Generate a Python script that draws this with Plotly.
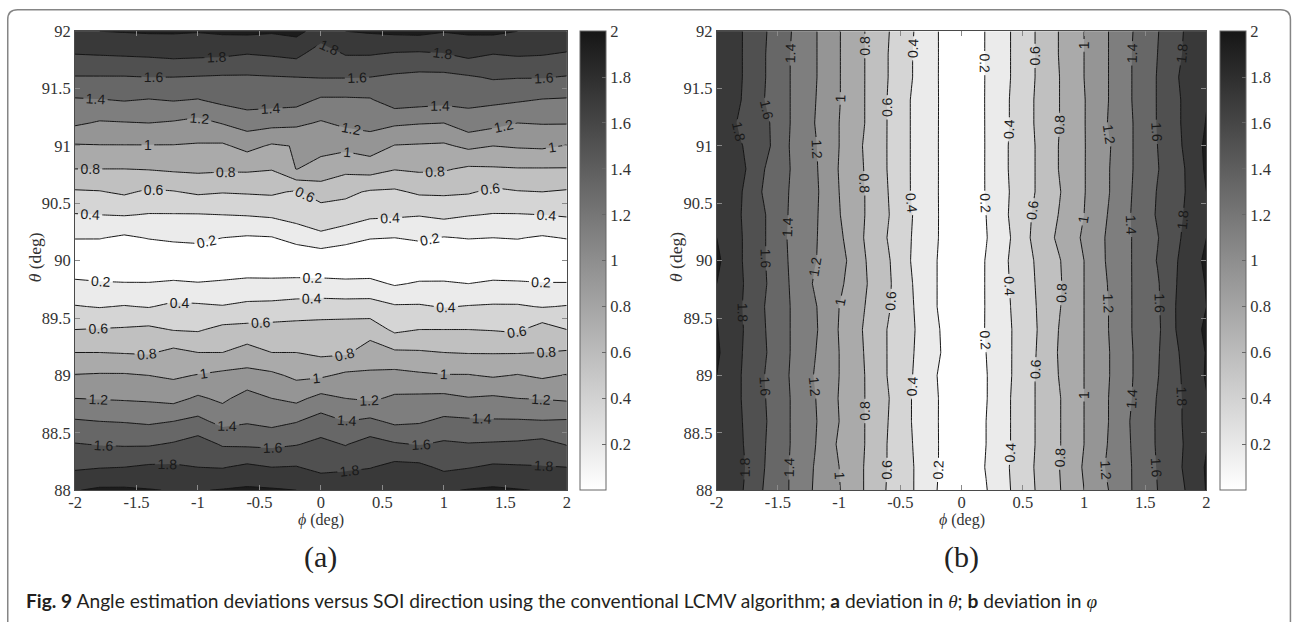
import numpy as np
import plotly.graph_objects as go

# ---------------------------------------------------------------- data
phi_deg = [-2.0, -1.8, -1.6, -1.4, -1.2, -1.0, -0.8, -0.6, -0.4, -0.2, 0.0,
           0.2, 0.4, 0.6, 0.8, 1.0, 1.2, 1.4, 1.6, 1.8, 2.0]
# rows listed from the top of the plot (92 deg) down to 88 deg
theta_deg = [92.0, 91.8, 91.6, 91.4, 91.2, 91.0, 90.8, 90.6, 90.4, 90.2, 90.0,
             89.8, 89.6, 89.4, 89.2, 89.0, 88.8, 88.6, 88.4, 88.2, 88.0]

# (a) deviation in theta, one list per theta row (columns follow phi_deg)
dev_theta = [
    [1.99, 2.00, 2.01, 2.02, 2.02, 2.01, 2.03, 2.04, 2.02, 2.05, 1.92, 2.00, 2.02, 2.04, 2.05, 2.01, 2.03, 2.04, 2.00, 1.99, 1.98],
    [1.80, 1.81, 1.82, 1.83, 1.85, 1.84, 1.83, 1.80, 1.82, 1.85, 1.69, 1.81, 1.81, 1.78, 1.77, 1.79, 1.85, 1.80, 1.82, 1.81, 1.78],
    [1.59, 1.59, 1.59, 1.60, 1.60, 1.59, 1.58, 1.58, 1.59, 1.60, 1.61, 1.61, 1.60, 1.57, 1.55, 1.55, 1.58, 1.62, 1.61, 1.61, 1.59],
    [1.38, 1.39, 1.41, 1.39, 1.41, 1.39, 1.45, 1.49, 1.48, 1.47, 1.37, 1.37, 1.38, 1.50, 1.48, 1.46, 1.45, 1.44, 1.42, 1.39, 1.38],
    [1.23, 1.18, 1.19, 1.20, 1.18, 1.14, 1.21, 1.28, 1.26, 1.24, 1.18, 1.24, 1.26, 1.23, 1.21, 1.20, 1.31, 1.26, 1.20, 1.21, 1.21],
    [0.98, 0.99, 0.99, 0.99, 0.99, 0.98, 0.97, 1.06, 0.975, 1.01, 1.06, 1.05, 1.10, 0.99, 0.98, 0.97, 1.04, 1.00, 1.02, 1.03, 0.99],
    [0.80, 0.80, 0.80, 0.81, 0.83, 0.84, 0.83, 0.83, 0.81, 1.005, 0.93, 0.85, 0.88, 0.81, 0.83, 0.82, 0.77, 0.78, 0.79, 0.79, 0.79],
    [0.58, 0.59, 0.63, 0.57, 0.59, 0.63, 0.61, 0.62, 0.63, 0.58, 0.69, 0.64, 0.58, 0.57, 0.63, 0.63, 0.62, 0.56, 0.59, 0.60, 0.58],
    [0.39, 0.40, 0.41, 0.39, 0.39, 0.39, 0.40, 0.41, 0.43, 0.48, 0.50, 0.51, 0.44, 0.43, 0.41, 0.45, 0.41, 0.39, 0.39, 0.40, 0.42],
    [0.21, 0.21, 0.17, 0.21, 0.24, 0.25, 0.20, 0.18, 0.19, 0.27, 0.36, 0.27, 0.21, 0.20, 0.23, 0.19, 0.21, 0.20, 0.21, 0.18, 0.21],
    [0.03, 0.02, 0.04, 0.03, 0.02, 0.05, 0.03, 0.02, 0.04, 0.03, 0.02, 0.04, 0.03, 0.02, 0.03, 0.04, 0.02, 0.03, 0.05, 0.03, 0.02],
    [0.24, 0.22, 0.21, 0.21, 0.23, 0.21, 0.23, 0.26, 0.25, 0.26, 0.26, 0.24, 0.25, 0.18, 0.22, 0.22, 0.20, 0.23, 0.22, 0.21, 0.21],
    [0.41, 0.39, 0.41, 0.39, 0.44, 0.43, 0.41, 0.44, 0.45, 0.47, 0.48, 0.48, 0.48, 0.42, 0.42, 0.39, 0.41, 0.42, 0.42, 0.39, 0.41],
    [0.60, 0.61, 0.62, 0.64, 0.59, 0.58, 0.65, 0.66, 0.67, 0.68, 0.69, 0.70, 0.71, 0.56, 0.60, 0.60, 0.60, 0.59, 0.57, 0.69, 0.60],
    [0.80, 0.80, 0.79, 0.78, 0.85, 0.80, 0.80, 0.88, 0.80, 0.80, 0.76, 0.77, 0.90, 0.83, 0.82, 0.80, 0.79, 0.79, 0.79, 0.80, 0.82],
    [1.01, 1.02, 1.02, 1.00, 0.97, 1.01, 1.05, 1.06, 1.04, 0.96, 0.97, 1.04, 1.03, 1.06, 1.03, 1.01, 1.01, 0.98, 1.01, 0.97, 1.01],
    [1.20, 1.19, 1.18, 1.17, 1.14, 1.23, 1.16, 1.28, 1.20, 1.15, 1.26, 1.20, 1.17, 1.23, 1.24, 1.25, 1.21, 1.23, 1.20, 1.19, 1.17],
    [1.42, 1.40, 1.39, 1.37, 1.40, 1.45, 1.34, 1.38, 1.34, 1.39, 1.48, 1.40, 1.44, 1.36, 1.38, 1.44, 1.43, 1.42, 1.42, 1.41, 1.42],
    [1.61, 1.59, 1.58, 1.58, 1.62, 1.69, 1.58, 1.57, 1.56, 1.59, 1.65, 1.59, 1.68, 1.62, 1.59, 1.63, 1.61, 1.62, 1.63, 1.66, 1.59],
    [1.77, 1.79, 1.80, 1.83, 1.83, 1.80, 1.79, 1.84, 1.80, 1.81, 1.74, 1.76, 1.79, 1.86, 1.85, 1.76, 1.79, 1.83, 1.82, 1.81, 1.80],
    [1.99, 2.03, 2.03, 2.01, 1.99, 1.99, 2.01, 2.03, 2.02, 2.00, 1.97, 1.98, 1.99, 1.98, 1.97, 1.98, 2.01, 2.03, 2.01, 1.99, 1.98],
]

# (b) deviation in phi, one list per phi column (rows follow theta_deg)
dev_phi_cols = [
    [1.98, 1.98, 1.99, 1.98, 1.97, 1.98, 1.99, 1.99, 1.99, 2.00, 2.04, 2.00, 1.99, 2.01, 2.03, 2.00, 1.99, 1.98, 1.99, 1.99, 1.98],
    [1.81, 1.81, 1.81, 1.80, 1.76, 1.81, 1.85, 1.81, 1.80, 1.81, 1.81, 1.82, 1.81, 1.82, 1.81, 1.80, 1.80, 1.81, 1.82, 1.84, 1.82],
    [1.61, 1.60, 1.60, 1.59, 1.64, 1.65, 1.59, 1.56, 1.60, 1.60, 1.60, 1.61, 1.59, 1.60, 1.61, 1.59, 1.60, 1.61, 1.60, 1.59, 1.57],
    [1.41, 1.40, 1.40, 1.40, 1.40, 1.39, 1.40, 1.39, 1.38, 1.37, 1.38, 1.39, 1.40, 1.40, 1.40, 1.39, 1.40, 1.40, 1.40, 1.39, 1.39],
    [1.22, 1.22, 1.22, 1.21, 1.20, 1.22, 1.23, 1.24, 1.23, 1.22, 1.21, 1.18, 1.22, 1.23, 1.21, 1.19, 1.21, 1.22, 1.21, 1.19, 1.18],
    [1.01, 1.01, 1.01, 1.01, 1.00, 1.00, 0.99, 1.00, 1.01, 1.04, 1.08, 1.04, 1.00, 0.99, 1.00, 1.00, 0.99, 1.00, 0.97, 1.00, 1.01],
    [0.81, 0.81, 0.81, 0.81, 0.81, 0.79, 0.80, 0.81, 0.81, 0.80, 0.82, 0.83, 0.81, 0.79, 0.80, 0.81, 0.81, 0.81, 0.81, 0.80, 0.80],
    [0.61, 0.60, 0.60, 0.59, 0.59, 0.59, 0.59, 0.60, 0.61, 0.59, 0.62, 0.63, 0.62, 0.59, 0.59, 0.59, 0.61, 0.60, 0.59, 0.59, 0.58],
    [0.41, 0.40, 0.40, 0.38, 0.38, 0.38, 0.38, 0.38, 0.40, 0.39, 0.38, 0.40, 0.41, 0.42, 0.41, 0.40, 0.39, 0.39, 0.40, 0.41, 0.41],
    [0.21, 0.21, 0.21, 0.21, 0.21, 0.21, 0.21, 0.21, 0.21, 0.21, 0.20, 0.20, 0.20, 0.22, 0.23, 0.20, 0.21, 0.21, 0.21, 0.21, 0.20],
    [0.02, 0.03, 0.02, 0.04, 0.03, 0.02, 0.03, 0.02, 0.04, 0.03, 0.02, 0.03, 0.02, 0.04, 0.03, 0.02, 0.03, 0.02, 0.04, 0.03, 0.02],
    [0.21, 0.21, 0.21, 0.21, 0.21, 0.21, 0.21, 0.21, 0.20, 0.19, 0.21, 0.21, 0.21, 0.21, 0.20, 0.19, 0.19, 0.20, 0.20, 0.21, 0.19],
    [0.40, 0.40, 0.40, 0.41, 0.41, 0.42, 0.42, 0.41, 0.42, 0.40, 0.42, 0.41, 0.40, 0.39, 0.39, 0.39, 0.40, 0.40, 0.40, 0.41, 0.40],
    [0.60, 0.60, 0.60, 0.61, 0.61, 0.60, 0.60, 0.60, 0.63, 0.65, 0.61, 0.60, 0.59, 0.58, 0.59, 0.60, 0.60, 0.60, 0.60, 0.61, 0.60],
    [0.81, 0.81, 0.80, 0.80, 0.80, 0.81, 0.81, 0.79, 0.81, 0.84, 0.79, 0.78, 0.79, 0.81, 0.82, 0.81, 0.79, 0.79, 0.79, 0.80, 0.79],
    [1.00, 1.00, 1.00, 0.99, 0.99, 0.99, 0.99, 0.99, 1.00, 1.03, 1.00, 1.00, 1.00, 1.00, 1.00, 1.00, 1.00, 1.00, 1.00, 1.02, 1.00],
    [1.20, 1.20, 1.20, 1.20, 1.21, 1.18, 1.19, 1.19, 1.21, 1.23, 1.23, 1.21, 1.20, 1.20, 1.19, 1.19, 1.20, 1.20, 1.21, 1.23, 1.20],
    [1.40, 1.41, 1.41, 1.41, 1.40, 1.40, 1.40, 1.41, 1.42, 1.41, 1.41, 1.41, 1.41, 1.41, 1.40, 1.40, 1.41, 1.43, 1.42, 1.41, 1.41],
    [1.59, 1.60, 1.61, 1.61, 1.61, 1.60, 1.59, 1.61, 1.62, 1.59, 1.61, 1.58, 1.57, 1.56, 1.58, 1.59, 1.61, 1.62, 1.62, 1.61, 1.60],
    [1.79, 1.80, 1.83, 1.81, 1.81, 1.80, 1.77, 1.77, 1.79, 1.81, 1.84, 1.86, 1.88, 1.88, 1.83, 1.81, 1.80, 1.80, 1.79, 1.80, 1.77],
    [1.96, 1.97, 1.98, 1.99, 2.01, 2.04, 2.03, 2.00, 1.98, 2.00, 2.04, 2.01, 2.00, 2.03, 2.01, 2.02, 1.99, 1.98, 1.99, 2.02, 2.01],
]

phi_ticks = [-2, -1.5, -1, -0.5, 0, 0.5, 1, 1.5, 2]
phi_ticktext = ["-2", "-1.5", "-1", "-0.5", "0", "0.5", "1", "1.5", "2"]
theta_ticks = [88, 88.5, 89, 89.5, 90, 90.5, 91, 91.5, 92]
theta_ticktext = ["88", "88.5", "89", "89.5", "90", "90.5", "91", "91.5", "92"]
cbar_ticks = [0.2, 0.4, 0.6, 0.8, 1.0, 1.2, 1.4, 1.6, 1.8, 2.0]
cbar_ticktext = ["0.2", "0.4", "0.6", "0.8", "1", "1.2", "1.4", "1.6", "1.8", "2"]

# ---------------------------------------------------------------- geometry
# Layout positions below are given in target-picture pixels.  The page is
# shown with the default 8 px body margin and then scaled (SX, SY) into the
# picture, so each target pixel is mapped back to a figure pixel.
BODY_MARGIN = 8
SX, SY = 0.992, 0.970
W, H = 1296, 630
SERIF = "Liberation Serif"
SANS = "Liberation Sans"


def fig_px_x(px):
    return px / SX - BODY_MARGIN


def fig_px_y(py):
    return py / SY - BODY_MARGIN


def fx(px):
    """target x pixel -> paper fraction"""
    return fig_px_x(px) / W


def fy(py):
    """target y pixel -> paper fraction"""
    return 1 - fig_px_y(py) / H


# ---------------------------------------------------------------- styling
# Contour levels every 0.2; the list is padded with unused levels on both
# sides so that plotly spaces the inline labels more densely.
LEVEL_STEP = 0.2
PAD_BELOW, PAD_ABOVE = 30, 26
level_start = 0.2 - PAD_BELOW * LEVEL_STEP
level_end = 2.0 + PAD_ABOVE * LEVEL_STEP
n_levels = PAD_BELOW + 10 + PAD_ABOVE

# shade of each filled band: [0, 0.2), [0.2, 0.4), ..., [1.8, 2.0), >= 2.0
band_colors = ["#ffffff", "#ebebeb", "#d5d5d5", "#c0c0c0", "#aaaaaa", "#959595",
               "#7e7e7e", "#676767", "#505050", "#393939", "#1c1c1c"]
# the fill above level index k is sampled at (k + 1) / n_levels
first_k = PAD_BELOW - 1  # level 0.0
band_scale = [[0.0, band_colors[0]]]
for n, col in enumerate(band_colors):
    band_scale.append([(first_k + 1 + n) / n_levels, col])
band_scale.append([1.0, band_colors[-1]])

bar_scale = [[0.0, "#ffffff"], [0.5, "#8e8e8e"], [1.0, "#161616"]]

# plot rectangles in target pixels: (left, right, top, bottom)
boxes = [(76, 568, 30, 489), (718, 1208, 30, 489)]
bar_left = [581, 1222]
BAR_THICK = 26

theta_up = theta_deg[::-1]
z_a = np.array(dev_theta)[::-1]
z_b = np.array(dev_phi_cols).T[::-1]

fig = go.Figure()

for k, z in enumerate([z_a, z_b]):
    xa = "x" if k == 0 else "x2"
    ya = "y" if k == 0 else "y2"
    fig.add_trace(go.Contour(
        x=phi_deg, y=theta_up, z=z,
        xaxis=xa, yaxis=ya,
        autocontour=False,
        contours=dict(start=level_start, end=level_end, size=LEVEL_STEP,
                      coloring="fill", showlabels=True,
                      labelfont=dict(family=SANS, size=14, color="#1a1a1a")),
        colorscale=band_scale,
        line=dict(color="#151515", width=1, smoothing=0),
        showscale=False,
        hoverinfo="skip",
    ))
    left, right, top, bottom = boxes[k]
    fig.add_trace(go.Scatter(
        x=[None], y=[None], mode="markers", xaxis=xa, yaxis=ya,
        hoverinfo="skip", showlegend=False,
        marker=dict(
            color=[1.0], cmin=0, cmax=2, colorscale=bar_scale, showscale=True,
            colorbar=dict(
                x=fx(bar_left[k]), xanchor="left", xpad=0,
                y=fy((top + bottom) / 2), yanchor="middle", ypad=0,
                len=(fig_px_y(bottom) - fig_px_y(top)) / H, lenmode="fraction",
                thickness=BAR_THICK / SX, thicknessmode="pixels",
                outlinewidth=1, outlinecolor="#666666",
                tickvals=cbar_ticks, ticktext=cbar_ticktext,
                ticks="inside", ticklen=4, tickcolor="#666666",
                tickfont=dict(family=SERIF, size=16.5, color="#333333"),
            ),
        ),
    ))

axis_style = dict(
    showline=True, linecolor="#4a4a4a", linewidth=1, mirror="ticks",
    ticks="inside", ticklen=5, tickcolor="#8a8a8a", tickwidth=1,
    showgrid=False, zeroline=False,
    tickfont=dict(family=SERIF, size=16.5, color="#333333"),
)

layout = dict(
    width=W, height=H, margin=dict(l=0, r=0, t=0, b=0),
    paper_bgcolor="white", plot_bgcolor="white", showlegend=False,
)
for k in range(2):
    left, right, top, bottom = boxes[k]
    sx = "" if k == 0 else "2"
    layout["xaxis" + sx] = dict(
        axis_style, domain=[fx(left), fx(right)], range=[-2, 2],
        tickvals=phi_ticks, ticktext=phi_ticktext, ticklabelstandoff=-3,
        anchor="y" + sx,
    )
    layout["yaxis" + sx] = dict(
        axis_style, domain=[fy(bottom), fy(top)], range=[88, 92],
        tickvals=theta_ticks, ticktext=theta_ticktext,
        anchor="x" + sx,
    )
fig.update_layout(**layout)

# axis titles, panel tags and caption
annotations = []
for k, (ytx, xtx, tag) in enumerate([(36, 322, "(a)"), (677, 963, "(b)")]):
    annotations.append(dict(
        x=fx(ytx), y=fy(256), xref="paper", yref="paper", textangle=-90,
        xanchor="center", yanchor="middle",
        text="<i>θ</i> (deg)", showarrow=False,
        font=dict(family=SERIF, size=17.5, color="#333333")))
    annotations.append(dict(
        x=fx(xtx), y=fy(519), xref="paper", yref="paper",
        xanchor="center", yanchor="middle",
        text="<i>ϕ</i> (deg)", showarrow=False,
        font=dict(family=SERIF, size=16, color="#333333")))
    annotations.append(dict(
        x=fx(xtx), y=fy(556), xref="paper", yref="paper",
        xanchor="center", yanchor="middle",
        text=tag, showarrow=False,
        font=dict(family=SERIF, size=30, color="#222222")))

caption = ("<b>Fig. 9</b> Angle estimation deviations versus SOI direction using "
           "the conventional LCMV algorithm; <b>a</b> deviation in "
           "<span style=\"font-family:Liberation Serif\"><i>θ</i></span>; "
           "<b>b</b> deviation in "
           "<span style=\"font-family:Liberation Serif\"><i>φ</i></span>")
annotations.append(dict(
    x=fx(25), y=fy(599), xref="paper", yref="paper",
    xanchor="left", yanchor="middle",
    text=caption, showarrow=False,
    font=dict(family="Lato", size=19.2, color="#231f20")))
fig.update_layout(annotations=annotations)

# rounded frame around the figure (its bottom edge runs past the page)
L = max(fx(8), 0.75 / W)
R = min(fx(1292), 1 - 0.75 / W)
T = min(fy(6), 1 - 0.75 / H)
B = -20 / H
rx, ry = 10 / W, 10 / H
frame = (f"M {L},{B} L {L},{T - ry} Q {L},{T} {L + rx},{T} "
         f"L {R - rx},{T} Q {R},{T} {R},{T - ry} L {R},{B}")
fig.add_shape(type="path", path=frame, xref="paper", yref="paper",
              line=dict(color="#858585", width=1.5), layer="above")

fig.write_html("out.html")
